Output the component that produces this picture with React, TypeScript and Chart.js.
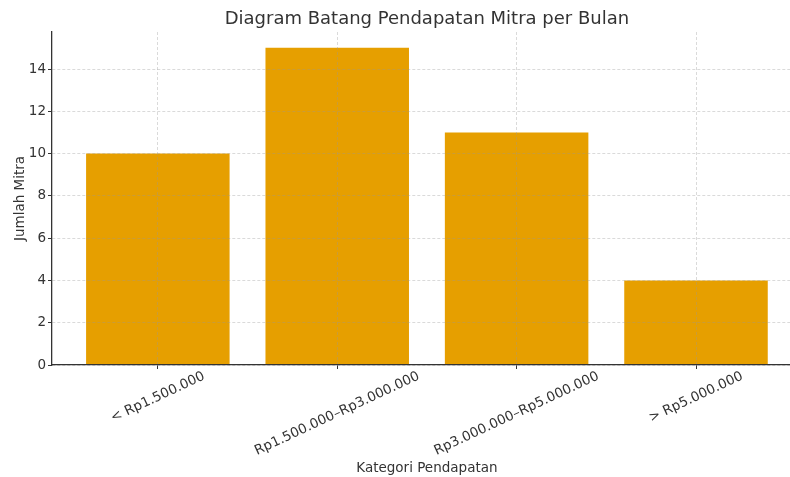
import React, { useEffect, useRef } from "react";
import { Chart, registerables } from "chart.js";

Chart.register(...registerables);

const title = "Diagram Batang Pendapatan Mitra per Bulan";
const xTitle = "Kategori Pendapatan";
const yTitle = "Jumlah Mitra";
const categories = [
  "< Rp1.500.000",
  "Rp1.500.000–Rp3.000.000",
  "Rp3.000.000–Rp5.000.000",
  "> Rp5.000.000",
];
const values = [10, 15, 11, 4];
const yTicks = [0, 2, 4, 6, 8, 10, 12, 14];

const FONT = "'DejaVu Sans', sans-serif";
const TEXT = "#333333";
const ROT = (25 * Math.PI) / 180;

const textPlugin = {
  id: "mplText",
  afterDraw(chart: any) {
    const { ctx, chartArea } = chart;
    const xs = chart.scales.x;
    const mid = xs.getPixelForValue((categories.length - 1) / 2);
    ctx.save();
    ctx.fillStyle = TEXT;
    ctx.textAlign = "center";
    ctx.textBaseline = "middle";
    ctx.font = `18px ${FONT}`;
    ctx.fillText(title, mid, 19);
    ctx.font = `13.5px ${FONT}`;
    ctx.fillText(xTitle, mid, 468);
    const h = 12.5;
    categories.forEach((c, i) => {
      const x = xs.getPixelForValue(i);
      const w = ctx.measureText(c).width;
      const cy = chartArea.bottom + 5 + (w * Math.sin(ROT) + h * Math.cos(ROT)) / 2;
      ctx.save();
      ctx.translate(x, cy);
      ctx.rotate(-ROT);
      ctx.fillText(c, 0, 0);
      ctx.restore();
    });
    ctx.restore();
  },
};

export default function App() {
  const ref = useRef<HTMLCanvasElement>(null);
  useEffect(() => {
    if (!ref.current) return;
    const gridColor = "rgba(150,150,150,0.45)";
    const gridOpts = {
      color: gridColor,
      lineWidth: 0.8,
      offset: false,
      z: 1,
      tickLength: 4,
      tickColor: "#333333",
      tickWidth: 1,
      tickBorderDash: [],
    };
    const borderOpts = { display: true, color: "#333333", width: 1.3, dash: [3, 2], z: 2 };
    const chart = new Chart(ref.current, {
      type: "bar",
      data: {
        datasets: [
          {
            data: categories.map((_, i) => ({ x: i, y: values[i] })),
            backgroundColor: "#E69F00",
            borderWidth: 0,
            categoryPercentage: 1,
            barPercentage: 0.8,
          },
        ],
      },
      plugins: [textPlugin],
      options: {
        animation: false,
        responsive: true,
        maintainAspectRatio: false,
        layout: { padding: { top: 32, left: 0, right: 0, bottom: 0 } },
        plugins: {
          legend: { display: false },
          tooltip: { enabled: false },
          title: { display: false },
        },
        scales: {
          x: {
            type: "linear",
            offset: false,
            min: -0.59,
            max: 3.524,
            afterBuildTicks: (s: any) => {
              s.ticks = categories.map((_, i) => ({ value: i }));
            },
            afterFit: (s: any) => {
              s.height = 112;
            },
            ticks: { display: false },
            grid: gridOpts,
            border: borderOpts,
          },
          y: {
            min: 0,
            max: 15.75,
            afterBuildTicks: (s: any) => {
              s.ticks = yTicks.map((v) => ({ value: v }));
            },
            afterFit: (s: any) => {
              s.width = 52;
            },
            ticks: {
              color: TEXT,
              font: { family: FONT, size: 13.5 },
              padding: 2,
            },
            title: {
              display: true,
              text: yTitle,
              color: TEXT,
              font: { family: FONT, size: 13.5 },
              padding: { top: 12, bottom: 0 },
            },
            grid: gridOpts,
            border: borderOpts,
          },
        },
      },
    } as any);
    return () => chart.destroy();
  }, []);
  return (
    <div style={{ position: "absolute", left: 0, top: 0, width: 790, height: 477, background: "#fff" }}>
      <canvas ref={ref} />
    </div>
  );
}
